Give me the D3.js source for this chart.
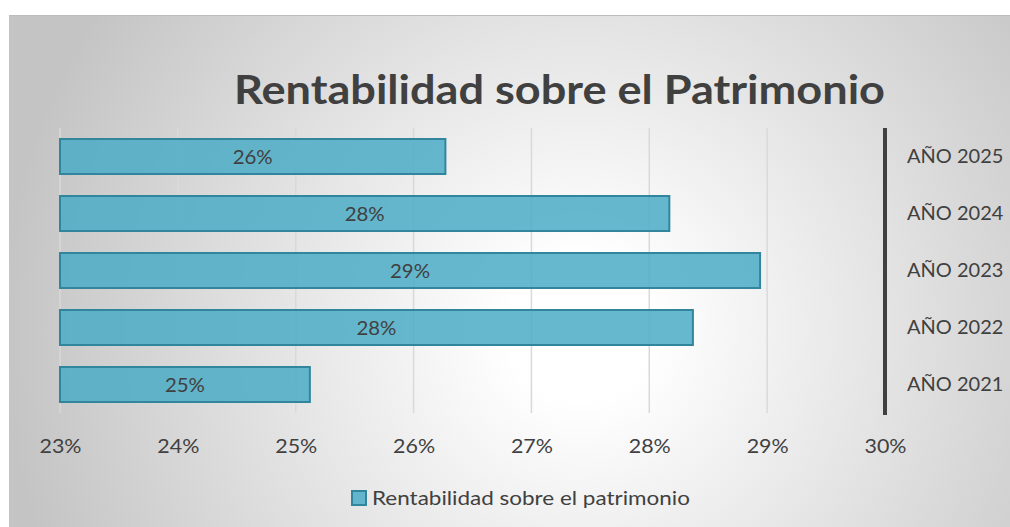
<!DOCTYPE html>
<html>
<head>
<meta charset="utf-8">
<script src="https://cdn.jsdelivr.net/npm/d3@7"></script>
<style>
  html, body { margin: 0; padding: 0; background: #fff; }
  svg { display: block; font-family: Lato, Carlito, Calibri, sans-serif; }
</style>
</head>
<body>
<div id="chart"></div>
<script>
// datos
const years = ["AÑO 2025", "AÑO 2024", "AÑO 2023", "AÑO 2022", "AÑO 2021"];
const roe = [26.27, 28.17, 28.94, 28.37, 25.12];
const xTicks = [23, 24, 25, 26, 27, 28, 29, 30];
const title = "Rentabilidad sobre el Patrimonio";
const seriesName = "Rentabilidad sobre el patrimonio";

const W = 1010, H = 527;
const textColor = "#404040";

let svg = d3.select("#chart").append("svg")
  .attr("width", W)
  .attr("height", H);

// fondo con degradado radial
let defs = svg.append("defs");
let grad = defs.append("radialGradient")
  .attr("id", "bg")
  .attr("gradientUnits", "userSpaceOnUse")
  .attr("cx", 580).attr("cy", 330).attr("r", 580);
grad.append("stop").attr("offset", "0.12").attr("stop-color", "#ffffff");
grad.append("stop").attr("offset", "1").attr("stop-color", "#c4c4c4");

svg.append("rect")
  .attr("x", 9).attr("y", 15)
  .attr("width", W - 9).attr("height", H - 15)
  .attr("fill", "url(#bg)");
svg.append("line")
  .attr("x1", 9).attr("x2", W)
  .attr("y1", 15.5).attr("y2", 15.5)
  .attr("stroke", "#bdbdbd").attr("stroke-width", 1);

// escalas
let x = d3.scaleLinear().domain([23, 30]).range([60, 885]);
let y = d3.scaleBand().domain(years).range([128, 413])
  .paddingInner(0.386).paddingOuter(0.193);

// líneas de cuadrícula
svg.append("g").attr("class", "grid")
  .selectAll("line")
  .data(xTicks.slice(0, -1))
  .enter().append("line")
  .attr("x1", d => x(d)).attr("x2", d => x(d))
  .attr("y1", 128).attr("y2", 413)
  .attr("stroke", "#d9d9d9").attr("stroke-width", 1.5);

// barras
let data = years.map((d, i) => ({ year: d, value: roe[i] }));
svg.append("g").attr("class", "bars")
  .selectAll("rect")
  .data(data)
  .enter().append("rect")
  .attr("x", x(23))
  .attr("y", d => y(d.year))
  .attr("width", d => x(d.value) - x(23))
  .attr("height", y.bandwidth())
  .attr("fill", "#4bacc6").attr("fill-opacity", 0.85)
  .attr("stroke", "#31859c").attr("stroke-width", 2);

// etiquetas de datos
svg.append("g").attr("class", "labels")
  .selectAll("text")
  .data(data)
  .enter().append("text")
  .attr("x", d => (x(23) + x(d.value)) / 2)
  .attr("y", d => y(d.year) + y.bandwidth() / 2 + 7)
  .attr("text-anchor", "middle")
  .attr("font-size", 20)
  .attr("textLength", 40)
  .attr("lengthAdjust", "spacingAndGlyphs")
  .attr("fill", textColor)
  .text(d => Math.round(d.value) + "%");

// eje de categorías a la derecha
svg.append("line")
  .attr("x1", x(30)).attr("x2", x(30))
  .attr("y1", 128).attr("y2", 415)
  .attr("stroke", "#404040").attr("stroke-width", 4);

let yAxis = d3.axisRight(y).tickSize(0).tickPadding(22);
let gy = svg.append("g")
  .attr("transform", `translate(${x(30)},0)`)
  .call(yAxis);
gy.select(".domain").remove();
gy.selectAll("text")
  .attr("font-size", 20)
  .attr("font-family", "Lato, sans-serif")
  .attr("fill", textColor);

// eje de valores abajo
let xAxis = d3.axisBottom(x).tickValues(xTicks).tickSize(0).tickPadding(0)
  .tickFormat(d => d + "%");
let gx = svg.append("g")
  .attr("transform", "translate(0,439)")
  .call(xAxis);
gx.select(".domain").remove();
gx.selectAll("text")
  .attr("font-size", 20)
  .attr("textLength", 42)
  .attr("lengthAdjust", "spacingAndGlyphs")
  .attr("font-family", "Lato, sans-serif")
  .attr("fill", textColor);

// título
svg.append("text")
  .attr("x", 559.5).attr("y", 104)
  .attr("text-anchor", "middle")
  .attr("font-size", 41)
  .attr("font-weight", "bold")
  .attr("textLength", 651)
  .attr("lengthAdjust", "spacingAndGlyphs")
  .attr("fill", textColor)
  .text(title);

// leyenda
svg.append("rect")
  .attr("x", 352).attr("y", 491)
  .attr("width", 14).attr("height", 14)
  .attr("fill", "#4bacc6").attr("fill-opacity", 0.85)
  .attr("stroke", "#31859c").attr("stroke-width", 2);
svg.append("text")
  .attr("x", 372).attr("y", 505)
  .attr("font-size", 20)
  .attr("textLength", 318)
  .attr("lengthAdjust", "spacingAndGlyphs")
  .attr("fill", textColor)
  .text(seriesName);
</script>
</body>
</html>
